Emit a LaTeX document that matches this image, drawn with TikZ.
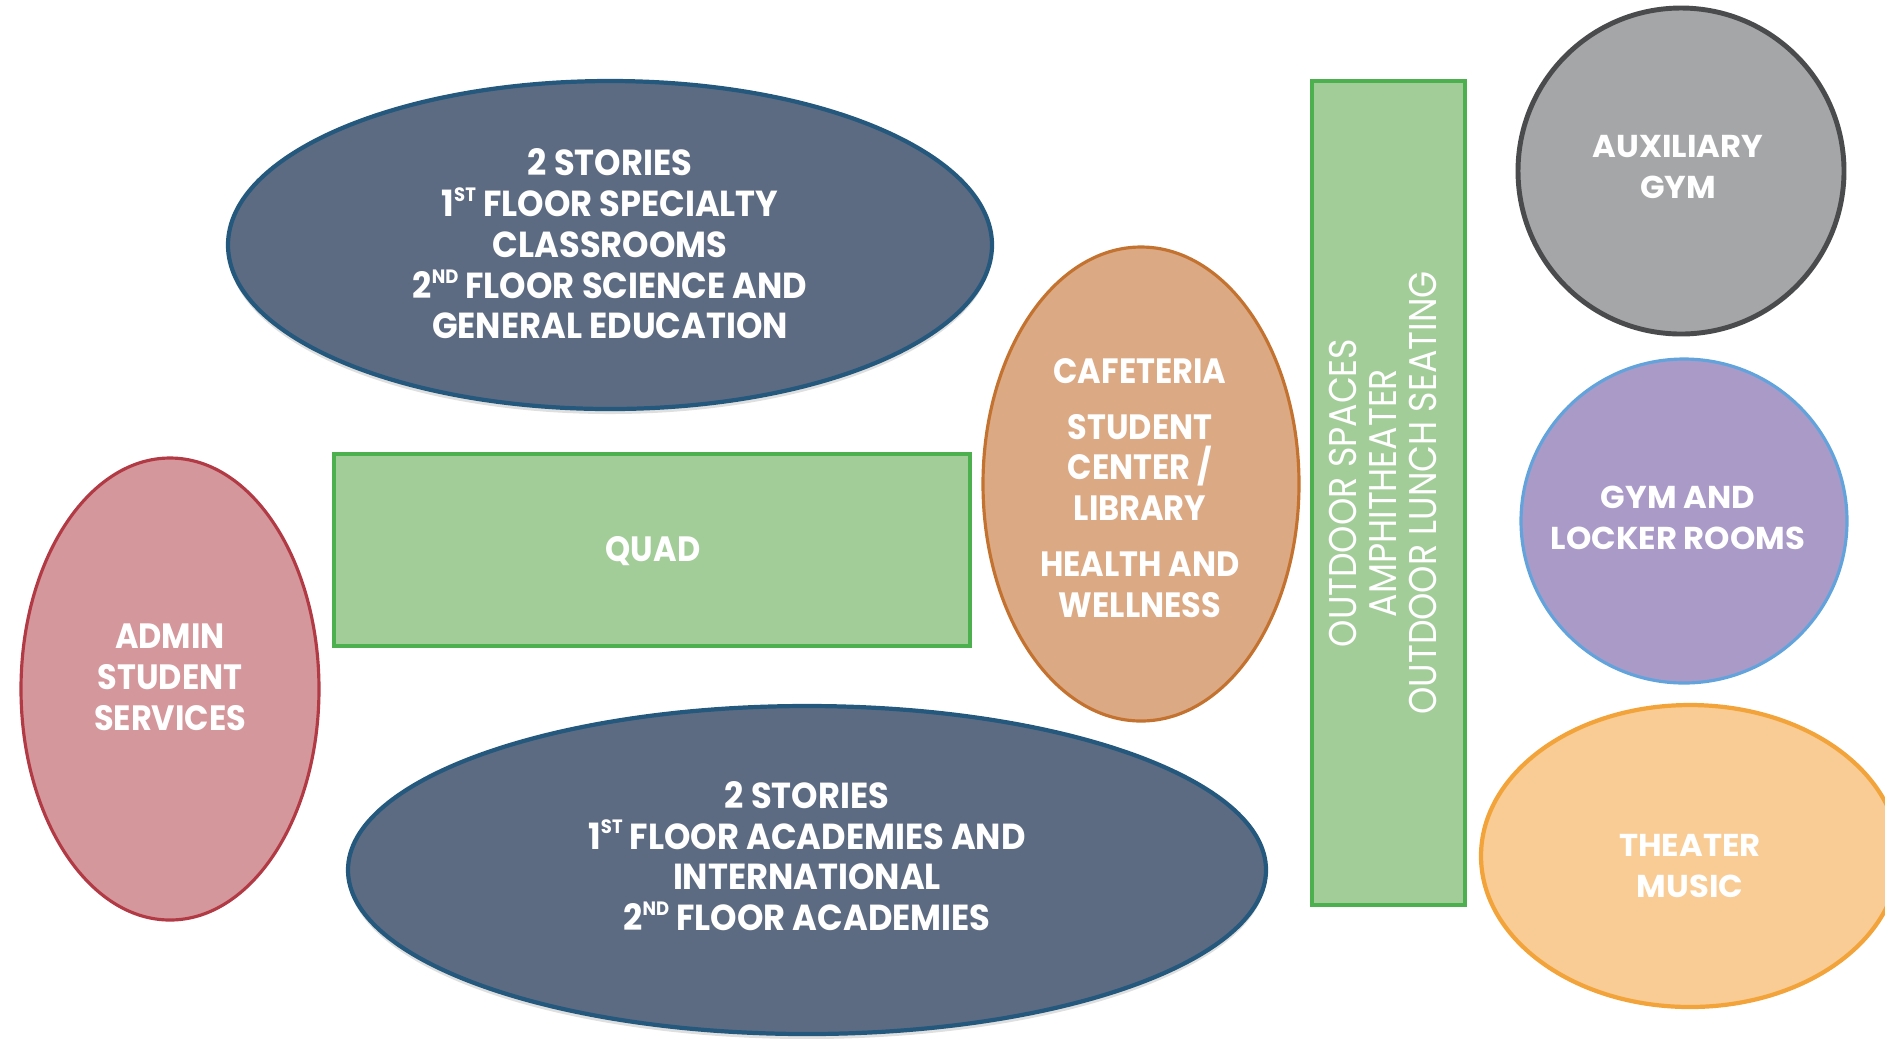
\documentclass[tikz,border=0pt]{standalone}
\usepackage{fontspec}
\setmainfont{Poppins}[FakeStretch=0.91]
\newfontfamily\slimfont{Poppins}[FakeStretch=0.93]
\newfontfamily\tallfont{Poppins}[FakeStretch=0.9]
\newfontfamily\widefont{Poppins}[FakeStretch=1.02]
\usepackage{tikz}
\usepackage{xcolor}
\usetikzlibrary{shapes.geometric,shadows}

\definecolor{wingfill}{HTML}{5D6B82}
\definecolor{wingline}{HTML}{24587C}
\definecolor{yardfill}{HTML}{A3CD98}
\definecolor{yardline}{HTML}{4DB04F}
\definecolor{adminfill}{HTML}{D4979B}
\definecolor{adminline}{HTML}{B23A45}
\definecolor{cafefill}{HTML}{DBA983}
\definecolor{cafeline}{HTML}{C4722F}
\definecolor{auxfill}{HTML}{A5A6A8}
\definecolor{auxline}{HTML}{4A4B4D}
\definecolor{gymfill}{HTML}{A99AC8}
\definecolor{gymline}{HTML}{62A3DC}
\definecolor{stagefill}{HTML}{F8CC94}
\definecolor{stageline}{HTML}{F2A43A}

\newcommand{\ordmark}[1]{\raisebox{0.75ex}{\fontsize{5.5}{6}\selectfont #1}}

\begin{document}
\begin{tikzpicture}[
		wing/.style={ellipse, draw=wingline, fill=wingfill, line width=1.2pt, inner sep=0pt,
			drop shadow={shadow xshift=0pt, shadow yshift=-0.05cm, opacity=0.25}},
		zone/.style={ellipse, line width=0.9pt, inner sep=0pt},
		yard/.style={rectangle, draw=yardline, fill=yardfill, line width=1pt, inner sep=0pt},
		tag/.style={text=white, align=center, inner sep=0pt, font=\bfseries\fontsize{10}{11.6}\selectfont},
		slimtag/.style={tag, font=\slimfont\bfseries\fontsize{10.3}{11.6}\selectfont},
		widetag/.style={tag, font=\widefont\bfseries\fontsize{9}{11.8}\selectfont}
		]
		
		\clip (0,0) rectangle (18.85,-10.38);
		
		% upper wing
		\node [wing, minimum width=7.64cm, minimum height=3.28cm] (upper) at (6.10,-2.45) {};
		\node [slimtag] (upperText) at (6.10,-2.44) {2 STORIES\\1\ordmark{ST} FLOOR SPECIALTY\\CLASSROOMS\\2\ordmark{ND} FLOOR SCIENCE AND\\GENERAL EDUCATION};
		
		% lower wing
		\node [wing, minimum width=9.18cm, minimum height=3.28cm] (lower) at (8.07,-8.70) {};
		\node [slimtag] (lowerText) at (8.07,-8.56) {2 STORIES\\1\ordmark{ST} FLOOR ACADEMIES AND\\INTERNATIONAL\\2\ordmark{ND} FLOOR ACADEMIES};
		
		% quad
		\node [yard, minimum width=6.36cm, minimum height=1.92cm] (quad) at (6.52,-5.50) {};
		\node [tag] (quadText) at (6.53,-5.51) {QUAD};
		
		% admin
		\node [zone, draw=adminline, fill=adminfill, minimum width=2.98cm, minimum height=4.62cm] (admin) at (1.70,-6.89) {};
		\node [tag] (adminText) at (1.70,-6.77) {ADMIN\\STUDENT\\SERVICES};
		
		% cafeteria
		\node [zone, draw=cafeline, fill=cafefill, minimum width=3.16cm, minimum height=4.74cm] (cafe) at (11.41,-4.84) {};
		\node [tag] (cafeText) at (11.40,-4.88) {CAFETERIA\\[0.15cm]STUDENT\\CENTER /\\LIBRARY\\[0.15cm]HEALTH AND\\WELLNESS};
		
		% outdoor spaces
		\node [yard, minimum width=1.53cm, minimum height=8.24cm] (outdoor) at (13.885,-4.93) {};
		\node [tag, rotate=90, font=\tallfont\fontsize{11}{11.4}\selectfont] (outdoorText) at (13.83,-4.93) {OUTDOOR SPACES\\AMPHITHEATER\\OUTDOOR LUNCH SEATING};
		
		% auxiliary gym
		\node [zone, draw=auxline, fill=auxfill, line width=1.4pt, minimum width=3.26cm, minimum height=3.26cm] (aux) at (16.81,-1.71) {};
		\node [widetag] (auxText) at (16.78,-1.67) {AUXILIARY\\GYM};
		
		% gym and locker rooms
		\node [zone, draw=gymline, fill=gymfill, minimum width=3.26cm, minimum height=3.24cm] (gym) at (16.84,-5.21) {};
		\node [widetag] (gymText) at (16.78,-5.18) {GYM AND\\LOCKER ROOMS};
		
		% theater
		\node [zone, draw=stageline, fill=stagefill, line width=1.2pt, minimum width=4.18cm, minimum height=3.02cm] (stage) at (16.90,-8.56) {};
		\node [widetag] (stageText) at (16.90,-8.66) {THEATER\\MUSIC};
		
		\end{tikzpicture}
\end{document}
